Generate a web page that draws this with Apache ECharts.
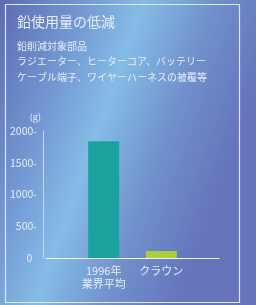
<!DOCTYPE html>
<html>
<head>
<meta charset="utf-8">
<script src="https://cdn.jsdelivr.net/npm/echarts@6/dist/echarts.min.js"></script>
<style>
  html, body { margin: 0; padding: 0; }
  #chart { width: 256px; height: 305px; }
</style>
</head>
<body>
<div id="chart"></div>
<script>
// データ
const categories = ['', '1996年\n業界平均', 'クラウン', ''];
const leadValues = [null, 1840, 110, null];
const barColors = ['#1aa39e', '#1aa39e', '#a9cf3c', '#a9cf3c'];
const yTicks = [0, 500, 1000, 1500, 2000];

const txt = '#e6ecfa';
const font = '"Noto Sans CJK JP", sans-serif';

const chart = echarts.init(document.getElementById('chart'));
chart.setOption({
  backgroundColor: {
    type: 'linear', x: 0, y: 0, x2: 1, y2: 0.3,
    colorStops: [
      { offset: 0, color: '#5c6bb3' },
      { offset: 0.3, color: '#7499d3' },
      { offset: 0.5, color: '#85bce6' },
      { offset: 0.75, color: '#7090cb' },
      { offset: 1, color: '#6574bb' }
    ]
  },
  animation: false,
  title: {
    text: '鉛使用量の低減',
    subtext: '鉛削減対象部品\nラジエーター、ヒーターコア、バッテリー\nケーブル端子、ワイヤーハーネスの被覆等',
    left: 12, top: 10,
    itemGap: 9,
    textStyle: { color: txt, fontSize: 14, fontWeight: 'normal', fontFamily: font },
    subtextStyle: { color: txt, fontSize: 10, lineHeight: 15.5, fontFamily: font }
  },
  graphic: [{
    type: 'rect',
    shape: { x: 5.5, y: 4.5, width: 234, height: 298 },
    style: { fill: 'none', stroke: '#dfe6f6', lineWidth: 1.2 }
  }],
  grid: { left: 46, right: 37, top: 131, bottom: 47 },
  xAxis: {
    type: 'category',
    data: categories,
    boundaryGap: false,
    axisLine: { lineStyle: { color: '#eef2fb', width: 1.2 } },
    axisTick: { show: false },
    axisLabel: {
      color: txt, fontSize: 11, fontFamily: font, lineHeight: 13,
      margin: 6, interval: 0
    }
  },
  yAxis: {
    type: 'value',
    min: yTicks[0], max: yTicks[yTicks.length - 1], interval: 500,
    offset: 3,
    name: '(g)',
    nameGap: 10,
    nameTextStyle: { color: txt, fontSize: 9, align: 'right', padding: [0, 2, 0, 0], fontFamily: font },
    axisLine: { show: true, lineStyle: { color: '#c9d6f0', width: 1 } },
    axisTick: { show: false },
    splitLine: { show: false },
    axisLabel: {
      color: txt, fontSize: 10.5, fontFamily: font, margin: 6,
      formatter: v => (v === 0 ? '0  ' : v + '-')
    }
  },
  series: [{
    type: 'bar',
    data: leadValues.map((v, i) => ({ value: v, itemStyle: { color: barColors[i] } })),
    barWidth: 31
  }]
});
</script>
</body>
</html>
